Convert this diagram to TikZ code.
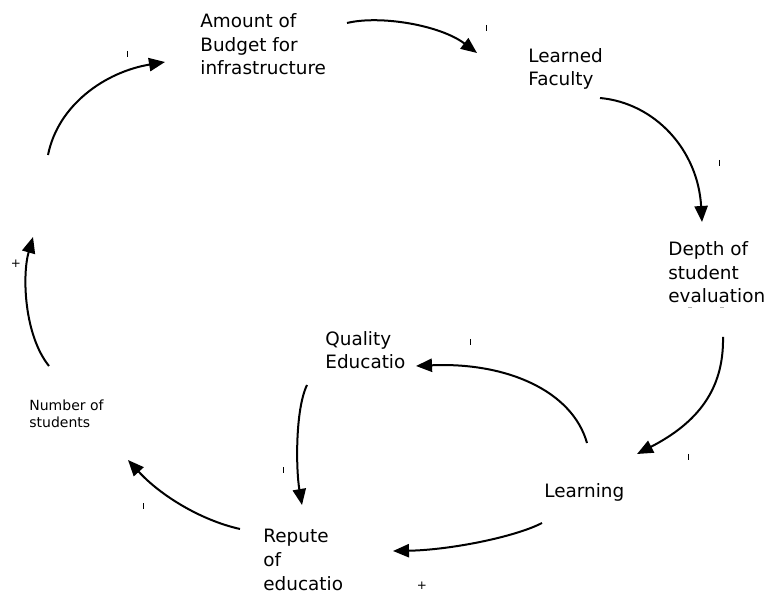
\documentclass[tikz,border=0pt]{standalone}
\usepackage{fontspec}
\setmainfont{DejaVu Sans}
\usetikzlibrary{arrows.meta}

\tikzset{
  var/.style={anchor=base west, inner sep=0pt, align=left,
    font=\fontsize{9.2pt}{11.8pt}\selectfont},
  smallvar/.style={anchor=base west, inner sep=0pt, align=left,
    font=\fontsize{7pt}{8.6pt}\selectfont},
  link/.style={line width=1pt, -{Triangle[length=8pt,width=6.6pt]}},
  tick/.style={line width=0.5pt},
  sign/.style={inner sep=0pt, font=\fontsize{6pt}{6pt}\selectfont}
}

\begin{document}
\begin{tikzpicture}[x=0.5pt, y=-0.5pt]
	\useasboundingbox (0,0) rectangle (770,592);

	% variables (base = last line)
	\node[var] (budget) at (200,75) {Amount of\\Budget for\\infrastructure};
	\node[var] (faculty) at (528,86) {Learned\\Faculty};
	\node[var] (depth) at (668,303) {Depth of\\student\\evaluation};
	\node[var] (quality) at (325,369) {Quality\\Educatio};
	\node[var] (learning) at (544,497) {Learning};
	\node[var] (repute) at (263,590) {Repute\\of\\educatio};
	\node[smallvar] (students) at (29,428) {Number of\\students};

	% arrow ends
	\coordinate (studentsOut) at (49,366);
	\coordinate (studentsEnd) at (33,237);
	\coordinate (budgetFrom) at (48,155);
	\coordinate (budgetIn) at (165,62);
	\coordinate (budgetOut) at (347,23);
	\coordinate (facultyIn) at (477,53);
	\coordinate (facultyOut) at (600,98);
	\coordinate (depthIn) at (702,222);
	\coordinate (depthOut) at (723,337);
	\coordinate (learningIn) at (637,454);
	\coordinate (learningUp) at (587,443);
	\coordinate (qualityIn) at (416,366);
	\coordinate (qualityOut) at (307,385);
	\coordinate (reputeTop) at (302,505);
	\coordinate (learningDown) at (542,523);
	\coordinate (reputeIn) at (393,551);
	\coordinate (reputeOut) at (240,529);
	\coordinate (studentsIn) at (128,460);

	% loop
	\draw[link] (studentsOut) .. controls (24,335) and (22,275) .. (studentsEnd);
	\draw[link] (budgetFrom) .. controls (58,105) and (105,72) .. (budgetIn);
	\draw[link] (budgetOut) .. controls (380,15) and (440,25) .. (facultyIn);
	\draw[link] (facultyOut) .. controls (655,103) and (698,150) .. (depthIn);
	\draw[link] (depthOut) .. controls (724,390) and (697,423) .. (learningIn);
	\draw[link] (learningUp) .. controls (572,390) and (505,362) .. (qualityIn);
	\draw[link] (qualityOut) .. controls (295,410) and (296,470) .. (reputeTop);
	\draw[link] (learningDown) .. controls (515,537) and (450,550) .. (reputeIn);
	\draw[link] (reputeOut) .. controls (200,520) and (160,495) .. (studentsIn);

	% signs
	\foreach \x/\y in {127/54, 486/28, 719/163, 470/342, 688/457, 283/470, 143/506}
		\draw[tick] (\x,\y-3) -- (\x,\y+3);
	\draw[tick, gray!60] (688,308) -- (692,308);
	\draw[tick, gray!60] (720,308) -- (724,308);
	\node[sign] (plusLeft) at (16,264) {+};
	\node[sign] (plusRight) at (422,586) {+};
\end{tikzpicture}
\end{document}
